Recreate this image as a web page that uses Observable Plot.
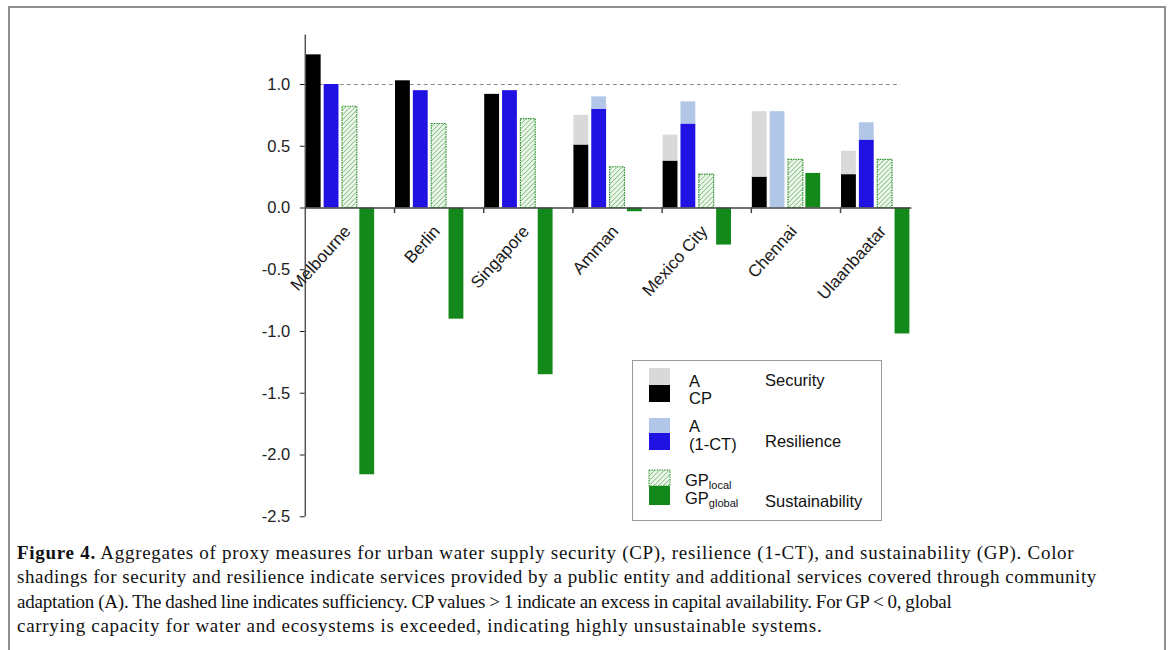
<!DOCTYPE html>
<html>
<head>
<meta charset="utf-8">
<script src="https://cdn.jsdelivr.net/npm/d3@7"></script>
<script src="https://cdn.jsdelivr.net/npm/@observablehq/plot@0.6"></script>
<style>
  html, body { margin: 0; padding: 0; background: #fff; }
  #page { position: relative; width: 1168px; height: 650px; overflow: hidden; }
  #border { position: absolute; left: 8px; top: 6px; width: 1154px; height: 700px;
            border: 2px solid #8f8f8f; border-bottom: none; }
  #chart { position: absolute; left: 0; top: 0; }
  #legend { position: absolute; left: 632px; top: 360px; width: 248px; height: 159px;
            border: 1.5px solid #9a9a9a; font-family: "Liberation Sans", Arial, sans-serif;
            font-size: 16.5px; color: #111; }
  #legend .t { position: absolute; white-space: nowrap; line-height: 1; transform: translateY(-50%); }
  #legend svg { position: absolute; left: 15px; top: 0; }
  #legend sub { font-size: 11px; vertical-align: -3px; }
  #caption { position: absolute; left: 17px; top: 541px; font-family: "Liberation Serif", "Times New Roman", serif;
             font-size: 19px; line-height: 24.4px; color: #111; }
  #caption div { white-space: nowrap; }
  #caption .l1 { letter-spacing: 0.71px; }
  #caption .l2 { letter-spacing: 0.55px; }
  #caption .l3 { letter-spacing: -0.2px; word-spacing: -0.5px; }
  #caption .l4 { letter-spacing: 0.7px; }
</style>
</head>
<body>
<div id="page">
  <div id="border"></div>
  <div id="chart"></div>
  <div id="legend"></div>
  <div id="caption">
    <div class="l1"><b>Figure 4.</b> Aggregates of proxy measures for urban water supply security (CP), resilience (1-CT), and sustainability (GP). Color</div>
    <div class="l2">shadings for security and resilience indicate services provided by a public entity and additional services covered through community</div>
    <div class="l3">adaptation (A). The dashed line indicates sufficiency. CP values &gt; 1 indicate an excess in capital availability. For GP &lt; 0, global</div>
    <div class="l4">carrying capacity for water and ecosystems is exceeded, indicating highly unsustainable systems.</div>
  </div>
</div>
<script>
// Cities and their proxy measures
const cities = ["Melbourne", "Berlin", "Singapore", "Amman", "Mexico City", "Chennai", "Ulaanbaatar"];
// Security: capital provision (CP) and community adaptation on top of it (A)
const cp         = [1.24, 1.03, 0.92, 0.51, 0.38, 0.25, 0.27];
const aSecurity  = [0.00, 0.00, 0.00, 0.24, 0.21, 0.53, 0.19];
// Resilience: (1-CT) and community adaptation on top of it (A)
const oneMinusCT = [1.00, 0.95, 0.95, 0.80, 0.68, 0.00, 0.55];
const aResilience= [0.00, 0.00, 0.00, 0.10, 0.18, 0.78, 0.14];
// Sustainability: local and global green performance
const gpLocal    = [0.82, 0.68, 0.72, 0.33, 0.27, 0.39, 0.39];
const gpGlobal   = [-2.16, -0.90, -1.35, -0.03, -0.30, 0.28, -1.02];
// Axis ticks and the sufficiency level
const yTicks = [-2.5, -2.0, -1.5, -1.0, -0.5, 0.0, 0.5, 1.0];
const sufficiency = 1.0;

const colors = {
  cp: "#000000", aSec: "#d9d9d9",
  ct: "#1f12e2", aRes: "#b2c6e8",
  gpGlobal: "#12891a", hatchLine: "#66b066", hatchEdge: "#2f8f2f"
};

// Each city occupies five slots: four bars and one gap
const slots = 5;
const rows = [];
cities.forEach((city, i) => {
  const base = i * slots;
  rows.push({city, slot: base + 0, y1: 0, y2: cp[i], fill: colors.cp});
  if (aSecurity[i] > 0) rows.push({city, slot: base + 0, y1: cp[i], y2: cp[i] + aSecurity[i], fill: colors.aSec});
  if (oneMinusCT[i] > 0) rows.push({city, slot: base + 1, y1: 0, y2: oneMinusCT[i], fill: colors.ct});
  if (aResilience[i] > 0) rows.push({city, slot: base + 1, y1: oneMinusCT[i], y2: oneMinusCT[i] + aResilience[i], fill: colors.aRes});
  rows.push({city, slot: base + 3, y1: 0, y2: gpGlobal[i], fill: colors.gpGlobal});
});
const hatched = cities.map((city, i) => ({city, slot: i * slots + 2, y1: 0, y2: gpLocal[i]}));
const lastSlot = cities.length * slots - 1;

const chart = Plot.plot({
  width: 1168,
  height: 535,
  marginLeft: 304.8,
  marginRight: 256.6,
  marginTop: 34.6,
  marginBottom: 18.75,
  style: {fontFamily: "'Liberation Sans', Arial, sans-serif", fontSize: "16.5px", color: "#222", background: "transparent"},
  x: {domain: [0, lastSlot], axis: null},
  y: {domain: [-2.5, 1.4], ticks: yTicks, tickSize: 5, tickPadding: 10,
      tickFormat: d => d.toFixed(1), label: null},
  marks: [
    Plot.ruleY([sufficiency], {x1: 0, x2: lastSlot - 0.64, stroke: "#8a8a8a", strokeWidth: 1.2, strokeDasharray: "4,3"}),
    Plot.rectY(rows, {x1: "slot", x2: d => d.slot + 1, y1: "y1", y2: "y2", fill: "fill", insetLeft: 1, insetRight: 2}),
    Plot.rectY(hatched, {x1: "slot", x2: d => d.slot + 1, y1: "y1", y2: "y2", fill: "url(#gp-hatch)",
      stroke: colors.hatchEdge, strokeWidth: 1.2, strokeDasharray: "1.5,1", insetLeft: 1.5, insetRight: 1.5}),
    Plot.ruleX([0], {y1: -2.5, y2: 1.4, stroke: "#555", strokeWidth: 1.5}),
    Plot.ruleY([0], {x1: 0, x2: lastSlot, stroke: "#444", strokeWidth: 1.5}),
    Plot.ruleX(d3.range(1, cities.length), {x: i => i * slots, y1: 0, y2: -0.045, stroke: "#444", strokeWidth: 1.5}),
    Plot.text(cities, {x: (d, i) => i * slots + 2.6, y: 0, text: d => d, rotate: -48,
      textAnchor: "end", lineAnchor: "bottom", dy: 24, fontSize: 17, fill: "#1a1a1a"})
  ]
});

// Diagonal hatch used for the local GP bars
const defs = d3.select(chart).insert("defs", ":first-child");
const pat = defs.append("pattern").attr("id", "gp-hatch").attr("patternUnits", "userSpaceOnUse")
  .attr("width", 3.4).attr("height", 3.4).attr("patternTransform", "rotate(45)");
pat.append("rect").attr("width", 3.4).attr("height", 3.4).attr("fill", "#eef7ec");
pat.append("line").attr("x1", 0).attr("y1", 0).attr("x2", 0).attr("y2", 3.4)
  .attr("stroke", colors.hatchLine).attr("stroke-width", 1.3);

document.getElementById("chart").appendChild(chart);

// Legend
const legend = d3.select("#legend");
const sw = legend.append("svg").attr("width", 24).attr("height", 159);
const swatches = [
  {y: 7, h: 17, fill: colors.aSec}, {y: 24, h: 17, fill: colors.cp},
  {y: 57, h: 15, fill: colors.aRes}, {y: 72, h: 17, fill: colors.ct},
  {y: 109, h: 16, fill: "url(#gp-hatch)", stroke: colors.hatchEdge}, {y: 125, h: 19, fill: colors.gpGlobal}
];
swatches.forEach(s => {
  sw.append("rect").attr("x", 1).attr("y", s.y).attr("width", 21).attr("height", s.h)
    .attr("fill", s.fill).attr("stroke", s.stroke || "none").attr("stroke-dasharray", s.stroke ? "1.5,1" : null);
});
const labels = [
  {x: 56, y: 20, html: "A"}, {x: 56, y: 37, html: "CP"}, {x: 132, y: 19, html: "Security"},
  {x: 56, y: 65, html: "A"}, {x: 56, y: 83, html: "(1-CT)"}, {x: 132, y: 80, html: "Resilience"},
  {x: 52, y: 120, html: "GP<sub>local</sub>"}, {x: 52, y: 138, html: "GP<sub>global</sub>"}, {x: 132, y: 140, html: "Sustainability"}
];
labels.forEach(l => {
  legend.append("div").attr("class", "t").style("left", l.x + "px").style("top", l.y + "px").html(l.html);
});
</script>
</body>
</html>
